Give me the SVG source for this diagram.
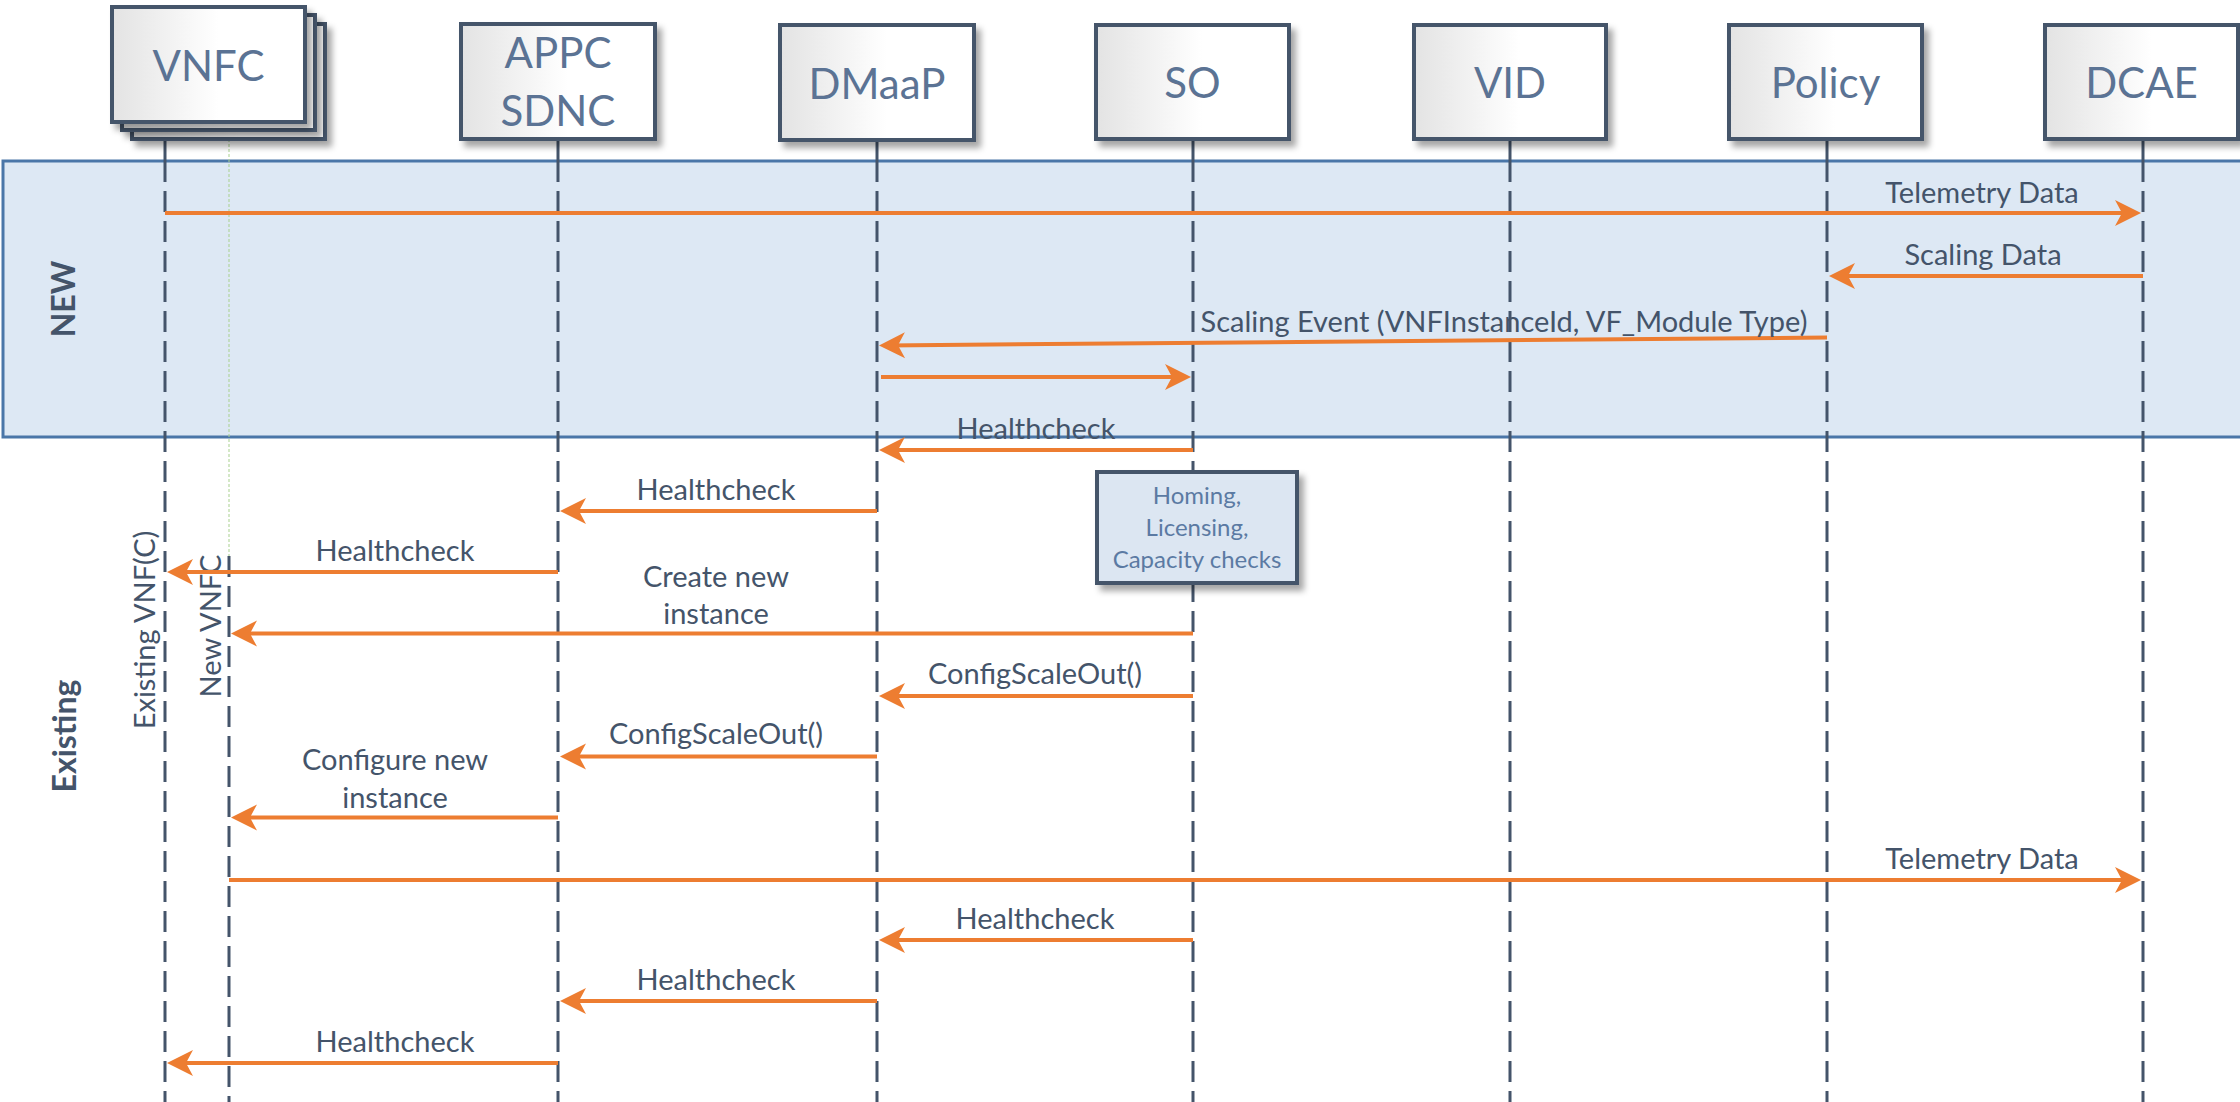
<svg xmlns="http://www.w3.org/2000/svg" width="2240" height="1102" viewBox="0 0 2240 1102">
<defs>
<linearGradient id="boxg" x1="0" y1="0" x2="1" y2="0">
<stop offset="0" stop-color="#e3e3e3"/>
<stop offset="0.55" stop-color="#ffffff"/>
<stop offset="1" stop-color="#ffffff"/>
</linearGradient>
<filter id="shadow" x="-10%" y="-10%" width="130%" height="140%">
<feDropShadow dx="5" dy="6" stdDeviation="3" flood-color="#000" flood-opacity="0.35"/>
</filter>
<marker id="ah" markerUnits="userSpaceOnUse" viewBox="-20 -14 30 28" refX="0" refY="0" markerWidth="30" markerHeight="28" orient="auto">
<path d="M8,0 L-18,-13 L-11,0 L-18,13 Z" fill="#ed7d31"/>
</marker>
<style>
.box{fill:url(#boxg);stroke:#44546a;stroke-width:4;filter:url(#shadow)}
.hdr{font-family:Lato,"Open Sans",sans-serif;font-size:42px;fill:#5b7394;text-anchor:middle}
.lbl{font-family:Lato,"Open Sans",sans-serif;font-size:29px;fill:#44546a;text-anchor:middle}
.side{font-family:Lato,"Open Sans",sans-serif;font-size:32px;font-weight:bold;fill:#44546a;text-anchor:middle}
.life{stroke:#44546a;stroke-width:3;fill:none}
.dash{stroke:#44546a;stroke-width:3;stroke-dasharray:21 9;fill:none}
.msg{stroke:#ed7d31;stroke-width:4;fill:none;marker-end:url(#ah)}
.note{fill:#dce6f2;stroke:#44546a;stroke-width:4;filter:url(#shadow)}
.ntxt{font-family:Lato,"Open Sans",sans-serif;font-size:24px;fill:#5b7aa3;text-anchor:middle}
</style>
</defs>
<rect width="2240" height="1102" fill="#ffffff"/>

<g id="band-new">
<rect x="3" y="161" width="2260" height="276" fill="#dde8f4" stroke="#4a76a8" stroke-width="3"/>
<text class="side" transform="translate(75,299) rotate(-90)">NEW</text>
</g>
<g id="band-existing">
<text class="side" transform="translate(76,736) rotate(-90)">Existing</text>
</g>

<g id="lifelines">
<line class="life" x1="165" y1="139" x2="165" y2="161"/>
<line class="dash" x1="165" y1="161" x2="165" y2="1102"/>
<line x1="229" y1="139" x2="229" y2="556" stroke="#a9d18e" stroke-width="1" stroke-dasharray="3 2"/>
<line class="dash" x1="229" y1="556" x2="229" y2="1102"/>
<line class="life" x1="558" y1="139" x2="558" y2="161"/>
<line class="dash" x1="558" y1="161" x2="558" y2="1102"/>
<line class="life" x1="877" y1="139" x2="877" y2="161"/>
<line class="dash" x1="877" y1="161" x2="877" y2="1102"/>
<line class="life" x1="1193" y1="139" x2="1193" y2="161"/>
<line class="dash" x1="1193" y1="161" x2="1193" y2="1102"/>
<line class="life" x1="1510" y1="139" x2="1510" y2="161"/>
<line class="dash" x1="1510" y1="161" x2="1510" y2="1102"/>
<line class="life" x1="1827" y1="139" x2="1827" y2="161"/>
<line class="dash" x1="1827" y1="161" x2="1827" y2="1102"/>
<line class="life" x1="2143" y1="139" x2="2143" y2="161"/>
<line class="dash" x1="2143" y1="161" x2="2143" y2="1102"/>
<text class="lbl" transform="translate(155,630) rotate(-90)">Existing VNF(C)</text>
<text class="lbl" transform="translate(221,626) rotate(-90)">New VNFC</text>
</g>

<g id="connectors">
<line class="msg" x1="165" y1="213" x2="2133" y2="213"/>
<line class="msg" x1="2143" y1="276" x2="1837" y2="276"/>
<line class="msg" x1="1827" y1="337.5" x2="887" y2="345.4"/>
<line class="msg" x1="881" y1="377" x2="1183" y2="377"/>
<line class="msg" x1="1193" y1="450" x2="887" y2="450"/>
<line class="msg" x1="877" y1="511" x2="568" y2="511"/>
<line class="msg" x1="558" y1="572" x2="175" y2="572"/>
<line class="msg" x1="1193" y1="633.5" x2="239" y2="633.5"/>
<line class="msg" x1="1193" y1="696" x2="887" y2="696"/>
<line class="msg" x1="877" y1="756.5" x2="568" y2="756.5"/>
<line class="msg" x1="558" y1="817.5" x2="239" y2="817.5"/>
<line class="msg" x1="229" y1="880" x2="2133" y2="880"/>
<line class="msg" x1="1193" y1="940" x2="887" y2="940"/>
<line class="msg" x1="877" y1="1001" x2="568" y2="1001"/>
<line class="msg" x1="558" y1="1063" x2="175" y2="1063"/>
<text class="lbl" x="1982" y="203">Telemetry Data</text>
<text class="lbl" x="1983" y="265">Scaling Data</text>
<text class="lbl" x="1504" y="332">Scaling Event (VNFInstanceId, VF_Module Type)</text>
<text class="lbl" x="1036" y="439">Healthcheck</text>
<text class="lbl" x="716" y="500">Healthcheck</text>
<text class="lbl" x="395" y="561">Healthcheck</text>
<text class="lbl" x="716" y="587">Create new</text>
<text class="lbl" x="716" y="624">instance</text>
<text class="lbl" x="1035" y="684">ConfigScaleOut()</text>
<text class="lbl" x="716" y="744">ConfigScaleOut()</text>
<text class="lbl" x="395" y="770">Configure new</text>
<text class="lbl" x="395" y="808">instance</text>
<text class="lbl" x="1982" y="869">Telemetry Data</text>
<text class="lbl" x="1035" y="929">Healthcheck</text>
<text class="lbl" x="716" y="990">Healthcheck</text>
<text class="lbl" x="395" y="1052">Healthcheck</text>
</g>

<g id="node-vnfc">
<rect class="box" x="132" y="24" width="193" height="115"/>
<rect class="box" x="122" y="15" width="193" height="115"/>
<rect class="box" x="112" y="7" width="193" height="115"/>
<text class="hdr" x="208.5" y="81">VNFC</text>
</g>
<g id="node-appc">
<rect class="box" x="461" y="24" width="194" height="115"/>
<text class="hdr" x="558" y="68">APPC</text>
<text class="hdr" x="558" y="126">SDNC</text>
</g>
<g id="node-dmaap">
<rect class="box" x="780" y="25" width="194" height="115"/>
<text class="hdr" x="877" y="99">DMaaP</text>
</g>
<g id="node-so">
<rect class="box" x="1096" y="25" width="193" height="114"/>
<text class="hdr" x="1192.5" y="98">SO</text>
</g>
<g id="node-vid">
<rect class="box" x="1414" y="25" width="192" height="114"/>
<text class="hdr" x="1510" y="98">VID</text>
</g>
<g id="node-policy">
<rect class="box" x="1729" y="25" width="193" height="114"/>
<text class="hdr" x="1825.5" y="98">Policy</text>
</g>
<g id="node-dcae">
<rect class="box" x="2045" y="25" width="193" height="114"/>
<text class="hdr" x="2141.5" y="98">DCAE</text>
</g>
<g id="note-homing">
<rect class="note" x="1097" y="472" width="200" height="111"/>
<text class="ntxt" x="1197" y="504">Homing,</text>
<text class="ntxt" x="1197" y="536">Licensing,</text>
<text class="ntxt" x="1197" y="568">Capacity checks</text>
</g>
</svg>
